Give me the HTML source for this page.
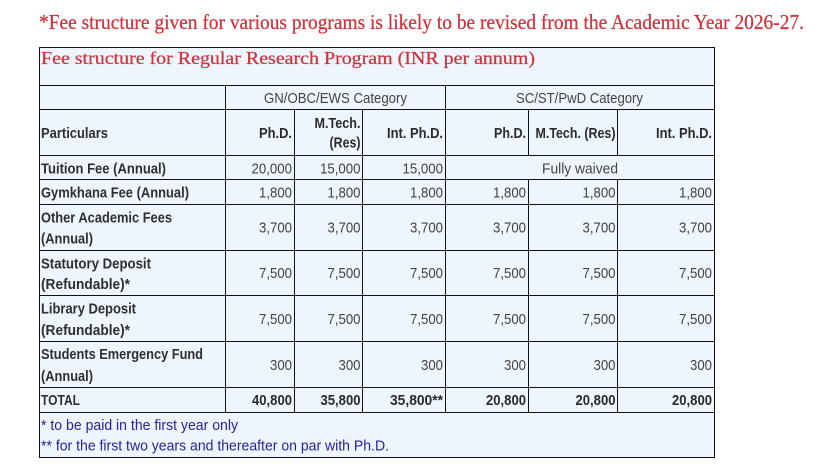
<!DOCTYPE html>
<html><head><meta charset="utf-8"><style>
html,body{margin:0;padding:0;background:#fff;}
svg{display:block;}
.t{font-family:"Liberation Sans",sans-serif;font-size:15px;fill:#444;}
.b{font-weight:bold;fill:#2a2a2a;}
.lbl{font-weight:bold;fill:#2f2f2f;}
.fn{fill:#2424a0;}
.ser{font-family:"Liberation Serif",serif;fill:#cf333c;stroke:#cf333c;stroke-width:0.25;}
</style></head><body>
<svg width="824" height="475" viewBox="0 0 824 475" xmlns="http://www.w3.org/2000/svg">
<rect x="0" y="0" width="824" height="475" fill="#fff"/>
<text class="ser" x="39" y="29" font-size="21" textLength="765" lengthAdjust="spacingAndGlyphs">*Fee structure given for various programs is likely to be revised from the Academic Year 2026-27.</text>
<rect x="39" y="47" width="676" height="411" fill="#eef5fc"/>
<text class="ser" x="41" y="64" font-size="18" textLength="494" lengthAdjust="spacingAndGlyphs">Fee structure for Regular Research Program (INR per annum)</text>
<g fill="#111">
<rect x="39" y="47" width="676" height="1"/>
<rect x="39" y="85" width="676" height="1"/>
<rect x="39" y="109" width="676" height="1"/>
<rect x="39" y="155" width="676" height="1"/>
<rect x="39" y="179" width="676" height="1"/>
<rect x="39" y="204" width="676" height="1"/>
<rect x="39" y="250" width="676" height="1"/>
<rect x="39" y="295" width="676" height="1"/>
<rect x="39" y="341" width="676" height="1"/>
<rect x="39" y="387" width="676" height="1"/>
<rect x="39" y="412" width="676" height="1"/>
<rect x="39" y="457" width="676" height="1"/>
<rect x="39" y="47" width="1" height="411"/>
<rect x="714" y="47" width="1" height="411"/>
<rect x="225" y="85" width="1" height="328"/>
<rect x="445" y="85" width="1" height="328"/>
<rect x="294" y="109" width="1" height="304"/>
<rect x="362" y="109" width="1" height="304"/>
<rect x="528" y="109" width="1" height="47"/>
<rect x="617" y="109" width="1" height="47"/>
<rect x="528" y="179" width="1" height="234"/>
<rect x="617" y="179" width="1" height="234"/>
</g>
<!-- category row -->
<text class="t" x="264" y="103" textLength="143" lengthAdjust="spacingAndGlyphs">GN/OBC/EWS Category</text>
<text class="t" x="516" y="103" textLength="127" lengthAdjust="spacingAndGlyphs">SC/ST/PwD Category</text>
<!-- header row -->
<text class="t lbl" x="41" y="138" textLength="67" lengthAdjust="spacingAndGlyphs">Particulars</text>
<g class="t b" text-anchor="end">
<text x="292" y="138" textLength="33" lengthAdjust="spacingAndGlyphs">Ph.D.</text>
<text x="360.5" y="128" textLength="46" lengthAdjust="spacingAndGlyphs">M.Tech.</text>
<text x="360.5" y="147.5" textLength="31" lengthAdjust="spacingAndGlyphs">(Res)</text>
<text x="443" y="138" textLength="56" lengthAdjust="spacingAndGlyphs">Int. Ph.D.</text>
<text x="526" y="138" textLength="32" lengthAdjust="spacingAndGlyphs">Ph.D.</text>
<text x="615.5" y="138" textLength="80" lengthAdjust="spacingAndGlyphs">M.Tech. (Res)</text>
<text x="712" y="138" textLength="56" lengthAdjust="spacingAndGlyphs">Int. Ph.D.</text>
</g>
<!-- labels -->
<g class="t lbl">
<text x="41" y="173.5" textLength="125" lengthAdjust="spacingAndGlyphs">Tuition Fee (Annual)</text>
<text x="41" y="197.5" textLength="148" lengthAdjust="spacingAndGlyphs">Gymkhana Fee (Annual)</text>
<text x="41" y="222.5" textLength="131" lengthAdjust="spacingAndGlyphs">Other Academic Fees</text>
<text x="41" y="243.5" textLength="52" lengthAdjust="spacingAndGlyphs">(Annual)</text>
<text x="41" y="268.5" textLength="110" lengthAdjust="spacingAndGlyphs">Statutory Deposit</text>
<text x="41" y="289" textLength="89" lengthAdjust="spacingAndGlyphs">(Refundable)*</text>
<text x="41" y="313.5" textLength="95" lengthAdjust="spacingAndGlyphs">Library Deposit</text>
<text x="41" y="335" textLength="89" lengthAdjust="spacingAndGlyphs">(Refundable)*</text>
<text x="41" y="359" textLength="162" lengthAdjust="spacingAndGlyphs">Students Emergency Fund</text>
<text x="41" y="381" textLength="52" lengthAdjust="spacingAndGlyphs">(Annual)</text>
<text x="41" y="405" textLength="39" lengthAdjust="spacingAndGlyphs">TOTAL</text>
</g>
<!-- numbers -->
<g class="t" text-anchor="end">
<text x="292" y="173.5" textLength="40.5" lengthAdjust="spacingAndGlyphs">20,000</text>
<text x="360.5" y="173.5" textLength="40.5" lengthAdjust="spacingAndGlyphs">15,000</text>
<text x="443" y="173.5" textLength="40.5" lengthAdjust="spacingAndGlyphs">15,000</text>

<text x="292" y="197.5" textLength="33" lengthAdjust="spacingAndGlyphs">1,800</text>
<text x="360.5" y="197.5" textLength="33" lengthAdjust="spacingAndGlyphs">1,800</text>
<text x="443" y="197.5" textLength="33" lengthAdjust="spacingAndGlyphs">1,800</text>
<text x="526" y="197.5" textLength="33" lengthAdjust="spacingAndGlyphs">1,800</text>
<text x="615.5" y="197.5" textLength="33" lengthAdjust="spacingAndGlyphs">1,800</text>
<text x="712" y="197.5" textLength="33" lengthAdjust="spacingAndGlyphs">1,800</text>

<text x="292" y="232.5" textLength="33" lengthAdjust="spacingAndGlyphs">3,700</text>
<text x="360.5" y="232.5" textLength="33" lengthAdjust="spacingAndGlyphs">3,700</text>
<text x="443" y="232.5" textLength="33" lengthAdjust="spacingAndGlyphs">3,700</text>
<text x="526" y="232.5" textLength="33" lengthAdjust="spacingAndGlyphs">3,700</text>
<text x="615.5" y="232.5" textLength="33" lengthAdjust="spacingAndGlyphs">3,700</text>
<text x="712" y="232.5" textLength="33" lengthAdjust="spacingAndGlyphs">3,700</text>

<text x="292" y="278" textLength="33" lengthAdjust="spacingAndGlyphs">7,500</text>
<text x="360.5" y="278" textLength="33" lengthAdjust="spacingAndGlyphs">7,500</text>
<text x="443" y="278" textLength="33" lengthAdjust="spacingAndGlyphs">7,500</text>
<text x="526" y="278" textLength="33" lengthAdjust="spacingAndGlyphs">7,500</text>
<text x="615.5" y="278" textLength="33" lengthAdjust="spacingAndGlyphs">7,500</text>
<text x="712" y="278" textLength="33" lengthAdjust="spacingAndGlyphs">7,500</text>

<text x="292" y="324" textLength="33" lengthAdjust="spacingAndGlyphs">7,500</text>
<text x="360.5" y="324" textLength="33" lengthAdjust="spacingAndGlyphs">7,500</text>
<text x="443" y="324" textLength="33" lengthAdjust="spacingAndGlyphs">7,500</text>
<text x="526" y="324" textLength="33" lengthAdjust="spacingAndGlyphs">7,500</text>
<text x="615.5" y="324" textLength="33" lengthAdjust="spacingAndGlyphs">7,500</text>
<text x="712" y="324" textLength="33" lengthAdjust="spacingAndGlyphs">7,500</text>

<text x="292" y="370" textLength="22" lengthAdjust="spacingAndGlyphs">300</text>
<text x="360.5" y="370" textLength="22" lengthAdjust="spacingAndGlyphs">300</text>
<text x="443" y="370" textLength="22" lengthAdjust="spacingAndGlyphs">300</text>
<text x="526" y="370" textLength="22" lengthAdjust="spacingAndGlyphs">300</text>
<text x="615.5" y="370" textLength="22" lengthAdjust="spacingAndGlyphs">300</text>
<text x="712" y="370" textLength="22" lengthAdjust="spacingAndGlyphs">300</text>
</g>
<text class="t" x="580" y="173.5" text-anchor="middle" textLength="76" lengthAdjust="spacingAndGlyphs">Fully waived</text>
<!-- totals -->
<g class="t b" text-anchor="end">
<text x="292" y="405" textLength="40" lengthAdjust="spacingAndGlyphs">40,800</text>
<text x="360.5" y="405" textLength="40" lengthAdjust="spacingAndGlyphs">35,800</text>
<text x="443" y="405" textLength="53" lengthAdjust="spacingAndGlyphs">35,800**</text>
<text x="526" y="405" textLength="40" lengthAdjust="spacingAndGlyphs">20,800</text>
<text x="615.5" y="405" textLength="40" lengthAdjust="spacingAndGlyphs">20,800</text>
<text x="712" y="405" textLength="40" lengthAdjust="spacingAndGlyphs">20,800</text>
</g>
<!-- footnotes -->
<text class="t fn" x="41" y="430" textLength="197" lengthAdjust="spacingAndGlyphs">* to be paid in the first year only</text>
<text class="t fn" x="41" y="450.5" textLength="348" lengthAdjust="spacingAndGlyphs">** for the first two years and thereafter on par with Ph.D.</text>
</svg>
</body></html>
